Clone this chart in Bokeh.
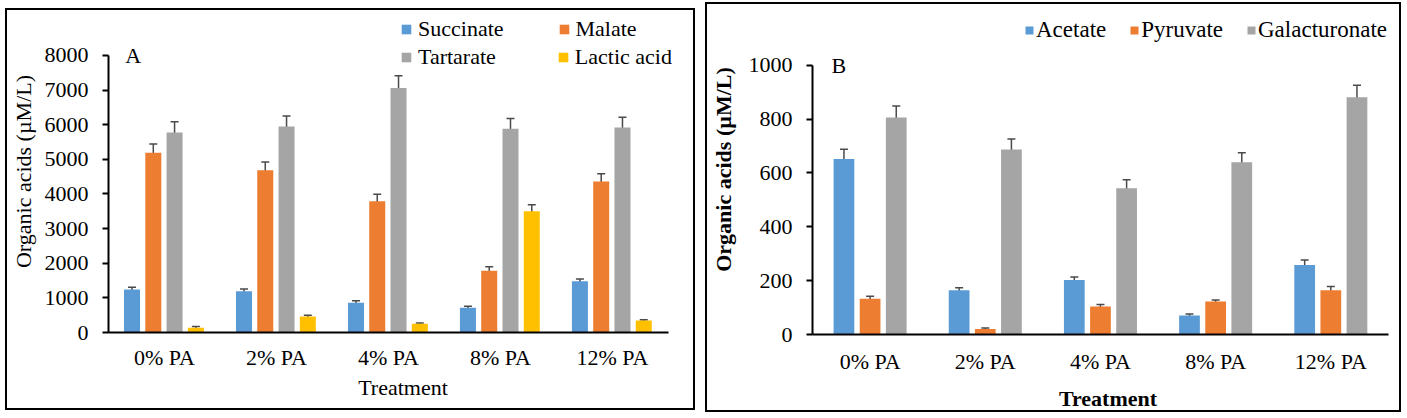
from bokeh.plotting import figure
from bokeh.models import (ColumnDataSource, Whisker, Legend, LegendItem, Label,
                          Range1d, SingleIntervalTicker, FixedTicker, TeeHead)
from bokeh.layouts import row
from bokeh.embed import file_html
from bokeh.resources import INLINE

treatments = ["0% PA", "2% PA", "4% PA", "8% PA", "12% PA"]

# Panel A (µM/L)
succinate = [1240, 1190, 860, 715, 1480]
succinate_err = [65, 65, 60, 45, 65]
malate = [5190, 4680, 3790, 1780, 4360]
malate_err = [250, 240, 200, 115, 225]
tartarate = [5770, 5950, 7060, 5880, 5920]
tartarate_err = [310, 300, 350, 300, 290]
lactic = [140, 460, 250, 3500, 345]
lactic_err = [30, 35, 25, 190, 25]

# Panel B (µM/L)
acetate = [652, 164, 202, 71, 258]
acetate_err = [36, 10, 12, 5, 19]
pyruvate = [133, 20, 104, 123, 164]
pyruvate_err = [9, 4, 7, 5, 14]
galacturonate = [806, 687, 543, 640, 881]
galacturonate_err = [43, 39, 32, 35, 45]

FONT = "Liberation Serif"
ERR = "#4a4a4a"
centers = [i + 0.5 for i in range(len(treatments))]


def style_axes(p, bold_titles):
    for ax in (p.xaxis[0], p.yaxis[0]):
        ax.axis_line_width = 2
        ax.axis_line_color = "black"
        ax.major_label_text_font = FONT
        ax.major_label_text_font_size = "22px"
        ax.major_label_text_color = "black"
        ax.axis_label_text_font = FONT
        ax.axis_label_text_font_size = "22px"
        ax.axis_label_text_color = "black"
        ax.axis_label_text_font_style = "bold" if bold_titles else "normal"
        ax.minor_tick_line_color = None
    p.xaxis.ticker = FixedTicker(ticks=centers)
    p.xaxis.major_label_overrides = {c: t for c, t in zip(centers, treatments)}
    p.xaxis.bounds = (0, len(treatments))
    p.xaxis.major_tick_line_color = None
    p.xaxis.major_tick_out = 0
    p.xaxis.major_tick_in = 0
    p.yaxis.major_tick_line_width = 2
    p.yaxis.major_tick_line_color = "black"
    p.yaxis.major_tick_out = 6
    p.yaxis.major_tick_in = 0
    p.xgrid.grid_line_color = None
    p.ygrid.grid_line_color = None
    p.outline_line_color = None


def add_series(p, name, vals, errs, color, offset, width):
    src = ColumnDataSource(dict(x=[c + offset for c in centers], v=vals,
                                up=[v + e for v, e in zip(vals, errs)],
                                lo=[v - e for v, e in zip(vals, errs)]))
    r = p.vbar(x="x", top="v", width=width, source=src,
               fill_color=color, line_color=None)
    w = Whisker(source=src, base="x", upper="up", lower="lo",
                line_color=ERR, line_width=1.5,
                upper_head=TeeHead(size=8, line_color=ERR, line_width=1.5),
                lower_head=TeeHead(size=8, line_color=ERR, line_width=1.5))
    p.add_layout(w)
    return LegendItem(label=name, renderers=[r])


def make_legend(items, x, y, spacing, gw, standoff, fs):
    return Legend(items=items, orientation="horizontal", location=(x, y),
                  glyph_width=gw, glyph_height=gw, label_standoff=standoff,
                  padding=0, margin=0, spacing=spacing,
                  border_line_color=None, background_fill_alpha=0,
                  label_text_font=FONT, label_text_font_size=fs,
                  label_text_color="black")


BOX = {"border": "2px solid black", "box-sizing": "content-box"}

# ---------- Panel A ----------
p1 = figure(width=686, height=398, x_range=Range1d(0, 5.26),
            y_range=Range1d(0, 9295), output_backend="svg", toolbar_location=None,
            min_border_left=99, min_border_right=0, min_border_top=0,
            min_border_bottom=75, x_axis_label="Treatment",
            y_axis_label="Organic acids (µM/L)")
style_axes(p1, False)
p1.yaxis.bounds = (0, 8000)
p1.yaxis.ticker = SingleIntervalTicker(interval=1000, num_minor_ticks=0)
p1.yaxis.major_label_standoff = 14
p1.yaxis.axis_label_standoff = 6
p1.xaxis.major_label_standoff = 12
p1.xaxis.axis_label_standoff = 2

bw = 0.143
it_s = add_series(p1, "Succinate", succinate, succinate_err, "#5B9BD5", -0.29, bw)
it_m = add_series(p1, "Malate", malate, malate_err, "#ED7D31", -0.10, bw)
it_t = add_series(p1, "Tartarate", tartarate, tartarate_err, "#A5A5A5", 0.09, bw)
it_l = add_series(p1, "Lactic acid", lactic, lactic_err, "#FFC000", 0.28, bw)

p1.add_layout(make_legend([it_s, it_m], 292, 290, 54, 12, 6, "22px"))
p1.add_layout(make_legend([it_t, it_l], 292, 262, 61, 12, 6, "22px"))
p1.add_layout(Label(x=0.15, y=8000, text="A", text_font=FONT, text_font_size="22px",
                    text_baseline="middle", text_color="black"))
p1.styles = BOX
p1.margin = (8, 0, 0, 5)

# ---------- Panel B ----------
p2 = figure(width=692, height=406, x_range=Range1d(0, 5.131),
            y_range=Range1d(0, 1225.6), output_backend="svg", toolbar_location=None,
            min_border_left=103, min_border_right=0, min_border_top=0,
            min_border_bottom=80, x_axis_label="Treatment",
            y_axis_label="Organic acids (µM/L)")
style_axes(p2, True)
p2.yaxis.bounds = (0, 1000)
p2.yaxis.ticker = SingleIntervalTicker(interval=200, num_minor_ticks=0)
p2.yaxis.major_label_standoff = 14
p2.yaxis.axis_label_standoff = 10
p2.xaxis.major_label_standoff = 14
p2.xaxis.axis_label_standoff = 9

bw2 = 0.18
it_a = add_series(p2, "Acetate", acetate, acetate_err, "#5B9BD5", -0.227, bw2)
it_p = add_series(p2, "Pyruvate", pyruvate, pyruvate_err, "#ED7D31", 0.0, bw2)
it_g = add_series(p2, "Galacturonate", galacturonate, galacturonate_err, "#A5A5A5", 0.227, bw2)

p2.add_layout(make_legend([it_a, it_p, it_g], 212, 291, 23, 10, 2, "23px"))
p2.add_layout(Label(x=0.165, y=1000, text="B", text_font=FONT, text_font_size="22px",
                    text_baseline="middle", text_color="black"))
p2.styles = BOX
p2.margin = (2, 0, 0, 10)

layout = row(p1, p2)
open("out.html", "w").write(file_html(layout, INLINE))
